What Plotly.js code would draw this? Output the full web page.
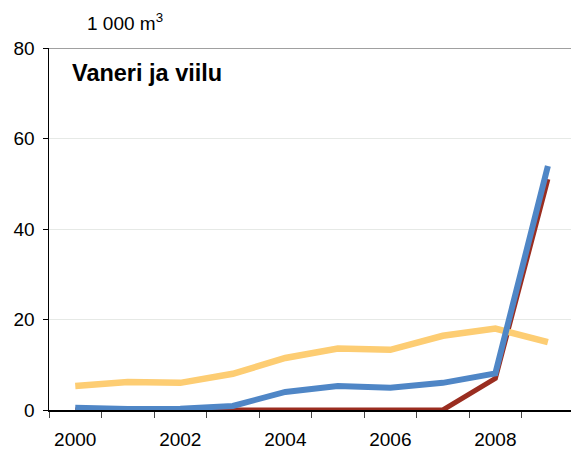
<!DOCTYPE html>
<html>
<head>
<meta charset="utf-8">
<script src="https://cdn.plot.ly/plotly-3.0.1.min.js"></script>
<style>html,body{margin:0;padding:0;background:#fff;}#chart{width:571px;height:453px;}</style>
</head>
<body>
<div id="chart"></div>
<script>
const years = [2000, 2001, 2002, 2003, 2004, 2005, 2006, 2007, 2008, 2009];
const seriesRed = [0, 0, 0, 0, 0, 0, 0, 0, 7.0, 51.0];
const seriesYellow = [5.3, 6.2, 6.0, 8.0, 11.5, 13.6, 13.3, 16.4, 18.0, 15.0];
const seriesBlue = [0.5, 0.2, 0.3, 0.9, 4.0, 5.3, 4.9, 6.0, 8.1, 53.9];
const xTickVals = [2000, 2002, 2004, 2006, 2008];
const xTickText = ['2000', '2002', '2004', '2006', '2008'];
const yTickVals = [0, 20, 40, 60, 80];

const font = 'Liberation Sans, Arial, sans-serif';
const traces = [
  {x: years, y: seriesRed, mode: 'lines', line: {color: '#9A2D20', width: 5}, hoverinfo: 'skip'},
  {x: years, y: seriesYellow, mode: 'lines', line: {color: '#FDCD73', width: 6.5}, hoverinfo: 'skip'},
  {x: years, y: seriesBlue, mode: 'lines', line: {color: '#4F86C6', width: 6}, hoverinfo: 'skip'}
];
const layout = {
  width: 571, height: 453,
  margin: {l: 49, r: 0, t: 48, b: 43, pad: 0},
  paper_bgcolor: '#fff', plot_bgcolor: '#fff',
  showlegend: false,
  font: {family: font, size: 19, color: '#000'},
  xaxis: {
    range: [1999.5, 2009.44], tickvals: xTickVals, ticktext: xTickText,
    ticks: '', showgrid: false, zeroline: false,
    showline: true, linecolor: '#000', linewidth: 1.5,
    ticklabelstandoff: 12,
    tickfont: {family: font, size: 19, color: '#000'},
    minor: {tick0: 1999.5, dtick: 1, ticks: 'outside', ticklen: 6, tickcolor: '#444', tickwidth: 1, showgrid: false}
  },
  yaxis: {
    range: [0, 80], tickvals: yTickVals, ticks: 'outside', ticklen: 5, tickcolor: '#000', tickwidth: 1,
    showgrid: true, gridcolor: '#E6E9E6', gridwidth: 1, zeroline: false,
    showline: true, linecolor: '#000', linewidth: 1.5,
    ticklabelstandoff: 4,
    tickfont: {family: font, size: 19, color: '#000'}
  },
  shapes: [
    {type: 'line', xref: 'paper', yref: 'y', x0: 0, x1: 1, y0: 80, y1: 80, line: {color: '#808080', width: 1.5}}
  ],
  annotations: [
    {xref: 'paper', yref: 'paper', x: 0.069, y: 1.0718, xanchor: 'left', yanchor: 'middle', showarrow: false,
     text: '1 000 m<sup>3</sup>', font: {family: font, size: 19, color: '#000'}},
    {xref: 'paper', yref: 'paper', x: 0.0395, y: 0.932, xanchor: 'left', yanchor: 'middle', showarrow: false,
     text: '<b>Vaneri ja viilu</b>', font: {family: font, size: 23.5, color: '#000'}}
  ]
};
Plotly.newPlot('chart', traces, layout, {displayModeBar: false, staticPlot: true});
</script>
</body>
</html>
